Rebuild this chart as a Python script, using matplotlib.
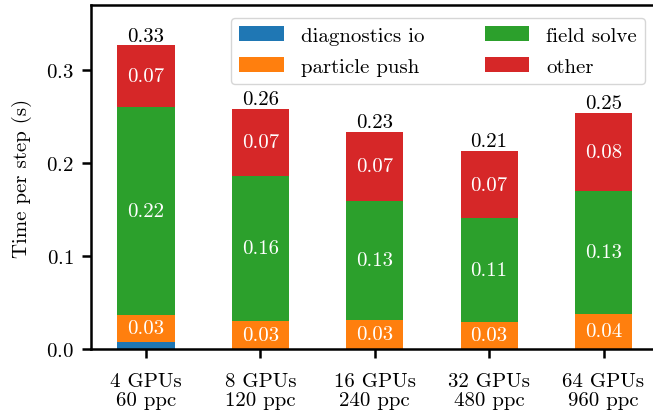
import numpy as np
import matplotlib
matplotlib.use("Agg")
import matplotlib.pyplot as plt

plt.rcParams['font.family'] = 'serif'
plt.rcParams['font.serif'] = ['cmr10']
plt.rcParams['mathtext.fontset'] = 'cm'
plt.rcParams['axes.formatter.use_mathtext'] = True
plt.rcParams['font.size'] = 15

# --- data ---
categories = ['4 GPUs\n60 ppc', '8 GPUs\n120 ppc', '16 GPUs\n240 ppc',
              '32 GPUs\n480 ppc', '64 GPUs\n960 ppc']
diagnostics_io = [0.0078, 0.0, 0.0, 0.0, 0.0]
particle_push = [0.029, 0.0305, 0.0315, 0.0294, 0.0376]
field_solve = [0.2237, 0.156, 0.128, 0.111, 0.1327]
other = [0.066, 0.072, 0.074, 0.0724, 0.0838]

series = [('diagnostics io', diagnostics_io, 'tab:blue'),
          ('particle push', particle_push, 'tab:orange'),
          ('field solve', field_solve, 'tab:green'),
          ('other', other, 'tab:red')]

fig = plt.figure(figsize=(6.53, 4.14), dpi=100)
ax = fig.add_axes([91 / 653, 64 / 414, 564 / 653, 344 / 414])

x = np.arange(len(categories))
bottom = np.zeros(len(categories))
for name, vals, color in series:
    vals = np.array(vals)
    ax.bar(x, vals, 0.5, bottom=bottom, color=color, label=name)
    for xi, b, v in zip(x, bottom, vals):
        if v >= 0.02:
            ax.text(xi, b + v / 2, f'{v:.2f}', ha='center', va='center',
                    color='white')
    bottom += vals

for xi, total in zip(x, bottom):
    ax.text(xi, total + 0.001, f'{total:.2f}', ha='center', va='bottom')

ax.set_xticks(x)
ax.set_xticklabels(categories, linespacing=1.1)
ax.set_xlim(-0.48, 4.45)
ax.set_ylim(0, 0.37)
ax.set_yticks([0.0, 0.1, 0.2, 0.3])
ax.set_ylabel('Time per step (s)', labelpad=10)
for s in ax.spines.values():
    s.set_linewidth(1.8)
ax.tick_params(width=1.8, length=6.5, pad=6)
ax.tick_params(axis='x', pad=10)

ax.legend(loc='upper right', ncol=2, handlelength=2.15, handletextpad=0.8,
          columnspacing=2.9, bbox_to_anchor=(0.99, 0.975), borderaxespad=0.2,
          labelspacing=0.6)

fig.savefig('out.png', dpi=100)
